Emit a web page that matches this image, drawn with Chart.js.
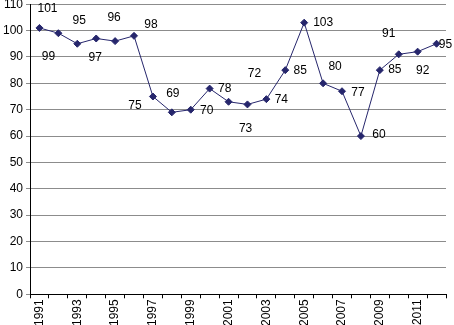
<!DOCTYPE html>
<html>
<head>
<meta charset="utf-8">
<script src="https://cdn.jsdelivr.net/npm/chart.js@4"></script>
<style>
html,body{margin:0;padding:0;background:#fff;overflow:hidden;}
#outer{width:454px;height:325px;position:relative;overflow:hidden;}
#wrap{width:454px;height:331px;position:absolute;left:0;top:-6px;}
</style>
</head>
<body>
<div id="outer"><div id="wrap"><canvas id="c"></canvas></div></div>
<script>
const years = ["1991","1992","1993","1994","1995","1996","1997","1998","1999","2000","2001","2002","2003","2004","2005","2006","2007","2008","2009","2010","2011","2012"];
const values = [101,99,95,97,96,98,75,69,70,78,73,72,74,85,103,80,77,60,85,91,92,95];
const yTicks = [0,10,20,30,40,50,60,70,80,90,100,110];

// label placement relative to each point (layout only)
const labelOffsets = [
  [8,-19],[-10,23],[2,-23],[-1,19],[-1,-23],[17,-11],[-18,9],[1,-19],[16,1],[15,0],
  [17,27],[7,-31],[15,1],[15,1],[19,0],[12,-17],[16,1],[18,-1],[15,0],[-10,-21],[5,19],[9,1]
];

const pointLabels = {
  id: 'pointLabels',
  afterDatasetsDraw(chart) {
    const ctx = chart.ctx;
    const meta = chart.getDatasetMeta(0);
    ctx.save();
    ctx.font = '12px "Liberation Sans", Arial, sans-serif';
    ctx.fillStyle = '#000';
    ctx.textAlign = 'center';
    ctx.textBaseline = 'middle';
    meta.data.forEach((pt, i) => {
      const o = labelOffsets[i];
      ctx.fillText(String(values[i]), pt.x + o[0], pt.y + o[1]);
    });
    ctx.restore();
  }
};

Chart.defaults.font.family = '"Liberation Sans", Arial, sans-serif';
Chart.defaults.font.size = 12;
Chart.defaults.color = '#000';

new Chart(document.getElementById('c'), {
  type: 'line',
  data: {
    labels: years,
    datasets: [{
      data: values,
      borderColor: '#26266c',
      backgroundColor: '#26266c',
      borderWidth: 1,
      pointStyle: 'rectRot',
      pointRadius: 3.5,
      pointHoverRadius: 3.5,
      tension: 0,
      fill: false
    }]
  },
  options: {
    responsive: true,
    maintainAspectRatio: false,
    animation: false,
    layout: { padding: { top: 0, right: 8, left: 0, bottom: -2 } },
    plugins: { legend: { display: false }, tooltip: { enabled: false } },
    scales: {
      x: {
        type: 'category',
        offset: true,
        grid: { display: true, drawOnChartArea: false, offset: true, tickLength: 4, color: '#000', lineWidth: 1 },
        border: { color: '#000', width: 1 },
        ticks: {
          autoSkip: false,
          minRotation: 90,
          maxRotation: 90,
          padding: 1,
          font: { size: 12 },
          callback: function(v, i) { return i % 2 === 0 ? years[i] : ''; }
        }
      },
      y: {
        min: 0,
        max: 110,
        afterBuildTicks(axis) { axis.ticks = yTicks.map(v => ({ value: v })); },
        grid: { color: '#8c8c8c', lineWidth: 1, tickLength: 4 },
        border: { color: '#000', width: 1 },
        ticks: { padding: 3, font: { size: 12 } }
      }
    }
  },
  plugins: [pointLabels]
});
</script>
</body>
</html>
